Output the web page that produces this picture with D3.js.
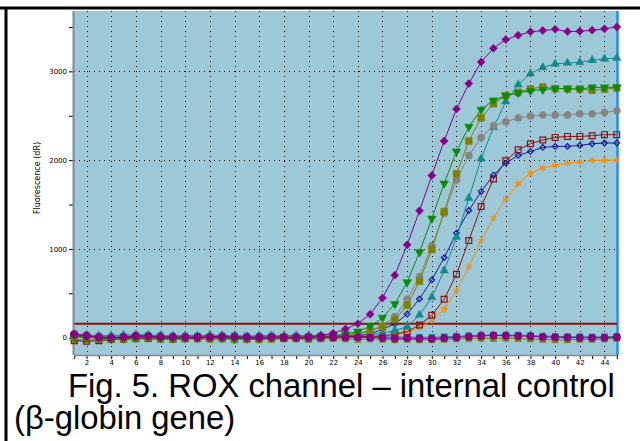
<!DOCTYPE html>
<html>
<head>
<meta charset="utf-8">
<script src="https://cdn.jsdelivr.net/npm/d3@7"></script>
<style>
    body { margin: 0; background: #fff; }
    svg { display: block; font-family: "Liberation Sans", Arial, sans-serif; }
</style>
</head>
<body>
<div id="chart"></div>
<script>
const cycles = d3.range(1, 46);
const xTickLabels = d3.range(2, 45, 2);
const yTickLabels = [0, 1000, 2000, 3000];
const yMinorTicks = [0, 500, 1000, 1500, 2000, 2500, 3000, 3500];
const threshold = 158;
const captionLines = ["Fig. 5. ROX channel \u2013 internal control", "(\u03b2-globin gene)"];

// amplifying wells
const purpleDiamond = [40, 25, 10, 0, 5, 20, 15, 10, 5, 0, -5, 10, 15, 5, 0, -10, 5, 10, 0, 10, 25,
    50, 98, 158, 264, 448, 704, 1046, 1429, 1827, 2215, 2576, 2862, 3106, 3260, 3358, 3407, 3445, 3460, 3474, 3448, 3452, 3463, 3479, 3501];
const greenTriDown = [20, 10, -5, -15, -10, 0, 5, -5, -10, -5, 0, 5, -5, -15, -10, -5, 0, 5, 0, 5, 10,
    20, 40, 70, 128, 226, 380, 625, 963, 1342, 1737, 2098, 2377, 2569, 2673, 2727, 2757, 2780, 2794, 2805, 2805, 2800, 2820, 2820, 2820];
const oliveSquare = [15, 5, -10, -20, -15, -5, 0, -10, -15, -10, -5, 0, -10, -20, -15, -10, -5, 0, -5, 0, 5, 15, 25,
    40, 75, 121, 203, 365, 636, 993, 1421, 1847, 2215, 2478, 2636, 2727, 2764, 2802, 2824, 2805, 2802, 2802, 2786, 2800, 2813];
const grayCircle = [45, 30, 15, 5, 10, 20, 15, 10, 5, 10, 5, 15, 10, 5, 5, 0, 10, 15, 5, 10, 15, 25, 35,
    50, 80, 135, 237, 433, 688, 1034, 1400, 1775, 2053, 2256, 2388, 2433, 2475, 2497, 2508, 2508, 2508, 2523, 2523, 2538, 2557];
const tealTriUp = [35, 30, 20, 25, 30, 35, 30, 25, 20, 25, 20, 30, 25, 20, 15, 20, 25, 20, 25, 20, 25, 20, 30, 25, 35,
    50, 80, 124, 256, 456, 756, 1132, 1572, 2016, 2370, 2659, 2850, 2975, 3046, 3084, 3095, 3102, 3125, 3140, 3151];
const navyDiamond = [10, 5, 0, -5, 0, 5, 0, -5, 0, 5, 0, 5, 0, -5, 0, 5, 0, 5, 0, 5, 10, 15, 20, 30,
    40, 95, 155, 267, 437, 651, 902, 1178, 1433, 1647, 1832, 1967, 2053, 2098, 2143, 2155, 2155, 2166, 2185, 2193, 2193];
const redOpenSquare = [-35, -40, -35, -20, -15, -10, -5, -10, -15, -10, -5, 0, -5, -10, -15, -10, -5, -5, -10, -5, 0, 5, 10, 15, 15,
    20, 40, 68, 143, 253, 433, 715, 1094, 1478, 1787, 1993, 2117, 2185, 2227, 2256, 2267, 2267, 2275, 2287, 2287];
const orangeStar = [10, 5, 0, -5, 0, 5, 0, -5, 0, 5, 0, 5, 0, -5, 0, 5, 0, 5, 0, 5, 0, 5, 5, 10, 15, 20,
    30, 60, 110, 195, 320, 530, 801, 1094, 1347, 1565, 1734, 1854, 1911, 1940, 1967, 1978, 1997, 1997, 2000];

// negative wells (flat)
const negPurple = [38, 20, 6, -3, 8, 18, 16, 8, 8, 6, 10, 5, 8, 10, 6, 5, 8, 2, 5, 4, 6, 8, 5, 4, 2,
    0, -8, -5, -10, -12, -5, 5, 12, 20, 25, 22, 20, 15, 8, 5, 2, 0, -2, 0, 5];
const negTeal = [30, 25, 15, 10, 15, 25, 25, 20, 15, 15, 18, 15, 20, 22, 18, 15, 18, 12, 15, 15, 18, 20, 15, 15, 12,
    10, 5, 8, 5, 5, 10, 15, 22, 28, 30, 30, 28, 25, 18, 15, 12, 10, 8, 10, 15];
const negOlive = [-20, -25, -25, -20, -20, -15, -15, -20, -20, -15, -15, -20, -15, -10, -15, -25, -20, -15, -15, -20, -15, -10, -15, -20, -15,
    -20, -25, -20, -25, -25, -20, -15, -10, -5, -10, -5, -10, -15, -20, -25, -25, -20, -20, -15, -10];

const series = [
    { values: negOlive, color: "#808000", shape: "square", size: 36, fill: true },
    { values: negTeal, color: "#128a8a", shape: "square", size: 36, fill: true },
    { values: orangeStar, color: "#ff8c00", shape: "asterisk", size: 30, fill: false },
    { values: redOpenSquare, color: "#8b1010", shape: "square", size: 34, fill: false },
    { values: navyDiamond, color: "#1a1a9a", shape: "diamond", size: 16, fill: false },
    { values: tealTriUp, color: "#128a8a", shape: "triangle", size: 30, fill: true },
    { values: grayCircle, color: "#858585", shape: "circle", size: 40, fill: true },
    { values: oliveSquare, color: "#808000", shape: "square", size: 46, fill: true },
    { values: greenTriDown, color: "#0a8a0a", shape: "triangleDown", size: 32, fill: true },
    { values: purpleDiamond, color: "#880088", shape: "diamond", size: 32, fill: true },
    { values: negPurple, color: "#880088", shape: "circle", size: 44, fill: true }
];

const W = 640, H = 441;
const plot = { left: 74, right: 617, top: 11, bottom: 355 };

const svg = d3.select("#chart")
    .append("svg")
    .attr("width", W)
    .attr("height", H);

const x = d3.scaleLinear().domain([1, 45]).range([74.2, 616.8]);
const y = d3.scaleLinear().domain([-195, 3680]).range([plot.bottom, plot.top]);

// plot background
svg.append("rect")
    .attr("x", plot.left)
    .attr("y", plot.top)
    .attr("width", plot.right - plot.left)
    .attr("height", plot.bottom - plot.top)
    .attr("fill", "#9cc8d8");

// dotted grid
svg.append("g")
    .selectAll("line")
    .data(xTickLabels)
    .enter()
    .append("line")
    .attr("x1", d => Math.round(x(d)) + 0.5).attr("x2", d => Math.round(x(d)) + 0.5)
    .attr("y1", plot.top).attr("y2", plot.bottom)
    .attr("stroke", "#000")
    .attr("stroke-width", 1)
    .attr("stroke-dasharray", "1,4");

svg.append("g")
    .selectAll("line")
    .data(yTickLabels.filter(d => d > 0))
    .enter()
    .append("line")
    .attr("x1", plot.left).attr("x2", plot.right)
    .attr("y1", d => Math.round(y(d)) + 0.5).attr("y2", d => Math.round(y(d)) + 0.5)
    .attr("stroke", "#000")
    .attr("stroke-width", 1)
    .attr("stroke-dasharray", "1,4");

// right edge
svg.append("line")
    .attr("x1", plot.right + 0.5).attr("x2", plot.right + 0.5)
    .attr("y1", plot.top).attr("y2", plot.bottom)
    .attr("stroke", "#1e8cff")
    .attr("stroke-width", 2.5);

// threshold
svg.append("line")
    .attr("x1", plot.left).attr("x2", plot.right)
    .attr("y1", y(threshold)).attr("y2", y(threshold))
    .attr("stroke", "#8b1010")
    .attr("stroke-width", 2);

// axes: ticks every cycle, labels on even cycles only
const xAxis = svg.append("g")
    .attr("transform", `translate(0,${plot.bottom})`)
    .call(d3.axisBottom(x).tickValues(cycles).tickSize(4).tickFormat(d => d % 2 === 0 ? d : ""));
xAxis.select(".domain").remove();
xAxis.selectAll(".tick text").filter(d => d % 2 !== 0).remove();
xAxis.selectAll("text")
    .attr("y", 5)
    .style("font-size", "7px")
    .style("font-family", "'DejaVu Sans', sans-serif");

svg.append("line")
    .attr("x1", plot.left).attr("x2", plot.right)
    .attr("y1", plot.bottom + 0.5).attr("y2", plot.bottom + 0.5)
    .attr("stroke", "#888")
    .attr("stroke-width", 1.5);

const yAxis = svg.append("g")
    .attr("transform", `translate(${plot.left - 1},0)`)
    .call(d3.axisLeft(y).tickValues(yMinorTicks).tickSize(4)
        .tickFormat(d => yTickLabels.includes(d) ? d : ""));
yAxis.select(".domain").remove();
yAxis.selectAll(".tick text").filter(d => !yTickLabels.includes(d)).remove();
yAxis.selectAll("text")
    .attr("x", -6)
    .style("font-size", "7px")
    .style("font-family", "'DejaVu Sans', sans-serif");

svg.append("line")
    .attr("x1", plot.left - 0.5).attr("x2", plot.left - 0.5)
    .attr("y1", plot.top).attr("y2", plot.bottom)
    .attr("stroke", "#888")
    .attr("stroke-width", 2);

svg.append("text")
    .attr("transform", `translate(40,178) rotate(-90)`)
    .attr("text-anchor", "middle")
    .style("font-size", "8px")
    .style("font-family", "'DejaVu Sans', sans-serif")
    .text("Fluorescence (dR)");

// curves
const line = d3.line()
    .x((d, i) => x(cycles[i]))
    .y(d => y(d));

function markerPath(shape, size) {
    switch (shape) {
        case "square": return d3.symbol(d3.symbolSquare, size)();
        case "diamond": return d3.symbol(d3.symbolSquare, size)();
        case "triangle": return d3.symbol(d3.symbolTriangle, size)();
        case "triangleDown": return d3.symbol(d3.symbolTriangle, size)();
        case "circle": return d3.symbol(d3.symbolCircle, size)();
        case "asterisk": return d3.symbol(d3.symbolAsterisk, size)();
    }
}

function markerRotate(shape) {
    if (shape === "diamond") return 45;
    if (shape === "triangleDown") return 180;
    return 0;
}

series.forEach(s => {
    const g = svg.append("g");
    g.append("path")
        .datum(s.values)
        .attr("d", line)
        .attr("fill", "none")
        .attr("stroke", s.color)
        .attr("stroke-width", 1);

    g.selectAll("path.mark")
        .data(s.values)
        .enter()
        .append("path")
        .attr("class", "mark")
        .attr("d", markerPath(s.shape, s.size))
        .attr("transform", (d, i) => `translate(${x(cycles[i])},${y(d)}) rotate(${markerRotate(s.shape)})`)
        .attr("fill", s.fill ? s.color : "none")
        .attr("stroke", s.color)
        .attr("stroke-width", s.fill ? 0.5 : 1.2);
});

// frame
svg.append("line")
    .attr("x1", 0).attr("x2", W)
    .attr("y1", 8).attr("y2", 8)
    .attr("stroke", "#000")
    .attr("stroke-width", 3);

svg.append("line")
    .attr("x1", 6).attr("x2", 6)
    .attr("y1", 7).attr("y2", H)
    .attr("stroke", "#000")
    .attr("stroke-width", 3);

// caption: one text block, two lines
const caption = svg.append("text")
    .style("font-size", "32.8px");

caption.append("tspan")
    .attr("x", 68)
    .attr("y", 397)
    .text(captionLines[0]);

caption.append("tspan")
    .attr("x", 14)
    .attr("y", 429)
    .text(captionLines[1]);
</script>
</body>
</html>
